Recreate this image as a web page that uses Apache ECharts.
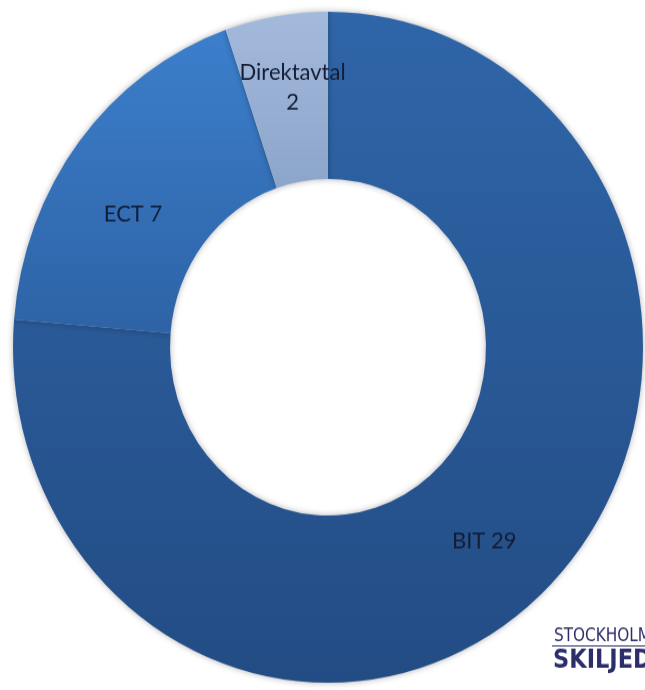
<!DOCTYPE html>
<html>
<head>
<meta charset="utf-8">
<script src="https://cdn.jsdelivr.net/npm/echarts@6/dist/echarts.min.js"></script>
<style>
    html, body { margin: 0; padding: 0; background: #ffffff; width: 645px; height: 690px; overflow: hidden; }
    /* the source picture is slightly stretched vertically */
    #chartContainer { width: 645px; height: 648px; transform: scaleY(1.065); transform-origin: 0 0; }
</style>
</head>
<body>
<div id="chartContainer"></div>
<script>
const categories = ["BIT", "ECT", "Direktavtal"];
const values = [29, 7, 2];

const topColors = ["#2f66a9", "#3c7fcc", "#a4badd"];
const bottomColors = ["#234c84", "#2e63a6", "#8ca5ca"];
// small nudges so labels sit where the original ones are
const labelShift = [[-6, 6], [-6, 22], [4, -8]];

window.onload = () => {
    const chart = echarts.init(document.getElementById('chartContainer'));

    const pieData = categories.map((name, i) => ({
        name: name,
        value: values[i],
        itemStyle: {
            color: new echarts.graphic.LinearGradient(0, 0, 0, 1, [
                { offset: 0, color: topColors[i] },
                { offset: 1, color: bottomColors[i] }
            ])
        },
        label: {
            formatter: name === "Direktavtal" ? '{b}\n{c}' : '{b} {c}'
        }
    }));

    const option = {
        animation: false,
        series: [
            {
                type: 'pie',
                center: [328, 326],
                radius: [158, 315],
                startAngle: 90,
                clockwise: true,
                data: pieData,
                itemStyle: {
                    borderWidth: 0,
                    shadowBlur: 6,
                    shadowColor: 'rgba(0,0,0,0.3)'
                },
                label: {
                    show: true,
                    position: 'inside',
                    color: '#141d36',
                    fontFamily: 'Lato',
                    fontSize: 22,
                    lineHeight: 28
                },
                labelLine: { show: false },
                labelLayout: (params) => ({
                    dx: labelShift[params.dataIndex][0],
                    dy: labelShift[params.dataIndex][1]
                })
            }
        ],
        graphic: [
            {
                type: 'text',
                left: 554,
                top: 589,
                style: {
                    text: 'STOCKHOLMS HANDELSKAMMARES',
                    fill: '#2b2e68',
                    font: '17px "Liberation Sans Narrow", "DejaVu Sans Condensed", sans-serif'
                }
            },
            {
                type: 'rect',
                shape: { x: 552, y: 606, width: 120, height: 1 },
                style: { fill: '#2b2e68' }
            },
            {
                type: 'text',
                left: 553,
                top: 608,
                style: {
                    text: 'SKILJEDOMSINSTITUT',
                    fill: '#2b2e68',
                    font: 'bold 25px "Liberation Sans Narrow", "DejaVu Sans Condensed", sans-serif'
                }
            }
        ]
    };

    chart.setOption(option);
};
</script>
</body>
</html>
